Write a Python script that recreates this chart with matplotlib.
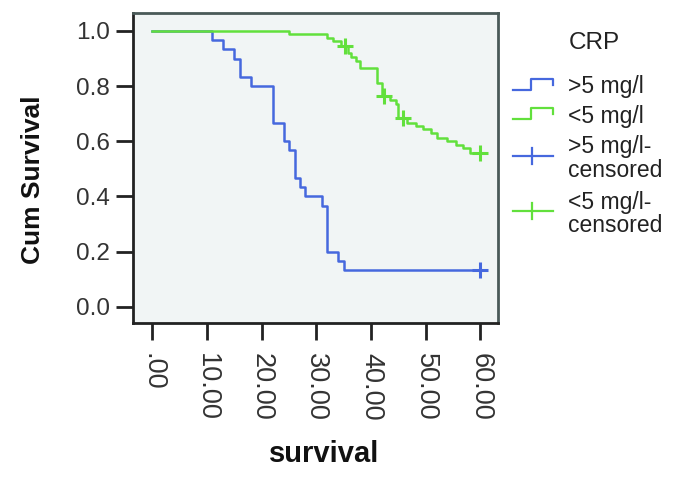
import matplotlib.pyplot as plt
from matplotlib.lines import Line2D

plt.rcParams['font.family'] = ['Liberation Sans', 'DejaVu Sans']

# Kaplan-Meier steps
high_t = [0, 11, 13, 15, 16, 18, 22, 24, 25, 26, 27, 28, 31, 32, 34, 35, 60]
high_s = [1.0, 0.967, 0.933, 0.9, 0.833, 0.8, 0.667, 0.6, 0.567, 0.467, 0.433,
          0.4, 0.367, 0.2, 0.167, 0.133, 0.133]
high_cens_t = [60]
high_cens_s = [0.133]

low_t = [0, 25, 32, 33, 34.5, 35.8, 36.4, 37.3, 37.9, 41, 42, 43.5, 44.5, 45,
         46.5, 48.3, 49.5, 51, 52, 53.8, 55.6, 56.8, 58, 60]
low_s = [1.0, 0.988, 0.976, 0.964, 0.944, 0.921, 0.905, 0.89, 0.865, 0.81, 0.765,
         0.75, 0.735, 0.685, 0.667, 0.655, 0.643, 0.63, 0.612, 0.6, 0.588, 0.576,
         0.558, 0.558]
low_cens_t = [35.2, 42.3, 45.9, 60]
low_cens_s = [0.944, 0.765, 0.685, 0.558]

xticks = [0, 10, 20, 30, 40, 50, 60]
xtick_labels = ['.00', '10.00', '20.00', '30.00', '40.00', '50.00', '60.00']
yticks = [0.0, 0.2, 0.4, 0.6, 0.8, 1.0]

blue = '#4668DE'
green = '#62E03C'

W, H = 684, 480
fig = plt.figure(figsize=(W / 100, H / 100), dpi=100)
fig.patch.set_facecolor('white')

def fx(px):
    return px / W

def fy(py):
    return 1 - py / H

ax = fig.add_axes([fx(133.3), fy(322.7), (498 - 133.3) / W, (322.7 - 13.3) / H])
ax.set_facecolor('#F1F5F5')

ax.step(high_t, high_s, where='post', color=blue, lw=1.8, zorder=3)
ax.step(low_t, low_s, where='post', color=green, lw=1.8, zorder=4)
ax.plot(high_cens_t, high_cens_s, ls='none', marker='+', ms=12, mew=2.2, color=blue, zorder=5)
ax.plot(low_cens_t, low_cens_s, ls='none', marker='+', ms=12, mew=2.2, color=green, zorder=5)

ax.set_xlim(-3.47, 63.2)
ax.set_ylim(-0.058, 1.064)
ax.set_xticks(xticks)
ax.set_xticklabels(xtick_labels, rotation=270, fontsize=19.5, color='#333333')
ax.set_yticks(yticks)
ax.set_yticklabels(['%.1f' % v for v in yticks], fontsize=17.5, color='#333333')
ax.tick_params(axis='both', length=12, width=2, color='#222222', direction='out')
ax.tick_params(axis='x', pad=10)
ax.tick_params(axis='y', pad=5)

for side in ['left', 'bottom']:
    ax.spines[side].set_color('#222222')
    ax.spines[side].set_linewidth(2)
for side in ['right', 'top']:
    ax.spines[side].set_color('#4A5A58')
    ax.spines[side].set_linewidth(2)

fig.text(fx(33), fy(180), 'Cum Survival', rotation=90, fontsize=19, fontweight='bold',
         ha='center', va='center', color='#111111')
fig.text(fx(324), fy(454), 'survival', fontsize=21, fontweight='bold',
         ha='center', va='center', color='#111111')

# legend, placed by hand
fig.text(fx(569), fy(43), 'CRP', fontsize=17.5, ha='left', va='center', color='#222222')

def step_handle(y_low, color):
    xs = [fx(513), fx(531), fx(531), fx(553), fx(553)]
    ys = [fy(y_low), fy(y_low), fy(y_low - 11), fy(y_low - 11), fy(y_low - 5)]
    fig.add_artist(Line2D(xs, ys, color=color, lw=1.6))

def cross_handle(yc, color):
    fig.add_artist(Line2D([fx(513), fx(553)], [fy(yc), fy(yc)], color=color, lw=1.6))
    fig.add_artist(Line2D([fx(532), fx(532)], [fy(yc - 8), fy(yc + 8)], color=color, lw=1.6))

step_handle(90, blue)
step_handle(119, green)
cross_handle(156, blue)
cross_handle(211, green)

fs = 16.5
fig.text(fx(568), fy(87), '>5 mg/l', fontsize=fs, ha='left', va='center', color='#222222')
fig.text(fx(568), fy(116), '<5 mg/l', fontsize=fs, ha='left', va='center', color='#222222')
fig.text(fx(568), fy(146), '>5 mg/l-', fontsize=fs, ha='left', va='center', color='#222222')
fig.text(fx(568), fy(170), 'censored', fontsize=fs, ha='left', va='center', color='#222222')
fig.text(fx(568), fy(202), '<5 mg/l-', fontsize=fs, ha='left', va='center', color='#222222')
fig.text(fx(568), fy(226), 'censored', fontsize=fs, ha='left', va='center', color='#222222')

fig.savefig('out.png', dpi=100)
